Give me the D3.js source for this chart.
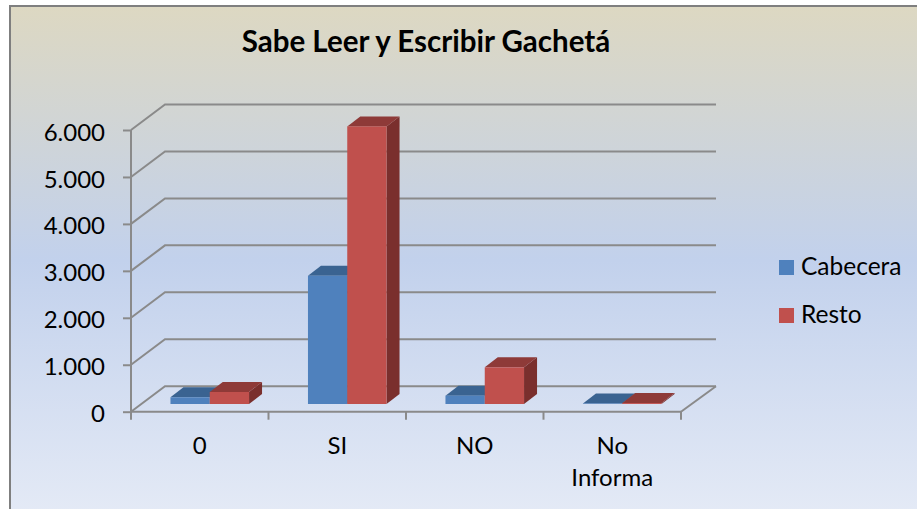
<!DOCTYPE html>
<html>
<head>
<meta charset="utf-8">
<script src="https://cdn.jsdelivr.net/npm/d3@7"></script>
<style>
html, body { margin: 0; padding: 0; background: #fff; overflow: hidden; }
svg { display: block; font-family: Lato, "Open Sans", sans-serif; }
</style>
</head>
<body>
<script>
// values
var categories = ["0", "SI", "NO", "No Informa"];
var seriesNames = ["Cabecera", "Resto"];
var cabecera = [143, 2730, 177, 10];
var resto = [256, 5913, 782, 20];
var yTicks = [0, 1000, 2000, 3000, 4000, 5000, 6000];
var titleText = "Sabe Leer y Escribir Gachetá";

var width = 917, height = 509;
var labelFont = "Lato, 'Open Sans', sans-serif";

// front plane of the fake 3d box
var plot = {left: 131, right: 681, top: 130, bottom: 411.7};
var depth = {dx: 34, dy: 25.5};       // wall depth
var barDepth = {dx: 13, dy: 10};      // depth of each bar
var barShift = {dx: 10, dy: 7.7};     // bars stand a bit inside the floor

var faces = {
    Cabecera: {front: "#4f81bd", top: "#3a6391", side: "#345a86"},
    Resto: {front: "#c0504d", top: "#8e3a38", side: "#7a2f2d"}
};
var lineColor = "#8a8a8a";

var svg = d3.select("body").append("svg")
    .attr("width", width)
    .attr("height", height);

// background gradient
var grad = svg.append("defs").append("linearGradient")
    .attr("id", "bg")
    .attr("x1", 0).attr("y1", 0).attr("x2", 0).attr("y2", 1);
grad.append("stop").attr("offset", "0%").attr("stop-color", "#ddd8c2");
grad.append("stop").attr("offset", "50%").attr("stop-color", "#c2d1ec");
grad.append("stop").attr("offset", "100%").attr("stop-color", "#e4eaf6");

svg.append("rect")
    .attr("x", 10).attr("y", 6)
    .attr("width", width).attr("height", height)
    .attr("fill", "url(#bg)")
    .attr("stroke", "#7f7f7f")
    .attr("stroke-width", 2);

var x = d3.scaleBand()
    .domain(categories)
    .range([plot.left, plot.right]);

// two bars take up a bit over half of each category
var xInner = d3.scaleBand()
    .domain(seriesNames)
    .range([0, x.bandwidth()])
    .paddingOuter(0.75)
    .paddingInner(0);

var y = d3.scaleLinear()
    .domain([0, 6000])
    .range([plot.bottom, plot.top]);

var locale = d3.formatLocale({decimal: ",", thousands: ".", grouping: [3], currency: ["", ""]});

//gridlines on the back and left walls
var grid = svg.append("g")
    .attr("fill", "none")
    .attr("stroke", lineColor)
    .attr("stroke-width", 2);

grid.selectAll(".wall")
    .data(yTicks)
    .enter()
    .append("path")
    .attr("class", "wall")
    .attr("d", function(d){
        var p = d3.path();
        p.moveTo(plot.left, y(d));
        p.lineTo(plot.left + depth.dx, y(d) - depth.dy);
        p.lineTo(plot.right + depth.dx + 1, y(d) - depth.dy);
        return p.toString();
    });

// floor right edge
var floorEdge = d3.path();
floorEdge.moveTo(plot.right, plot.bottom);
floorEdge.lineTo(plot.right + depth.dx + 1, plot.bottom - depth.dy);
grid.append("path").attr("d", floorEdge.toString());

//axes
var yAxis = svg.append("g")
    .attr("transform", "translate(" + plot.left + ",0)")
    .call(d3.axisLeft(y).tickValues(yTicks).tickSize(8).tickPadding(18).tickFormat(locale.format(",d")));

var xAxis = svg.append("g")
    .attr("transform", "translate(0," + plot.bottom + ")")
    .call(d3.axisBottom(x).tickSize(0).tickPadding(25));

// category ticks sit between the bands
xAxis.selectAll(".boundary")
    .data(categories.concat(["end"]))
    .enter()
    .append("line")
    .attr("class", "boundary")
    .attr("x1", function(d, i){ return plot.left + i * x.step(); })
    .attr("x2", function(d, i){ return plot.left + i * x.step(); })
    .attr("y1", 0)
    .attr("y2", 8);

[yAxis, xAxis].forEach(function(a){
    a.attr("font-family", labelFont);
    a.selectAll("path.domain, line")
        .attr("stroke", lineColor)
        .attr("stroke-width", 2);
    a.selectAll("path.domain").attr("d", null);
    a.selectAll("text")
        .attr("fill", "#000")
        .style("font-size", "24px");
});
yAxis.selectAll("text").attr("dy", "0.42em");
yAxis.append("line").attr("x1", 0).attr("x2", 0)
    .attr("y1", y(6000)).attr("y2", y(0))
    .attr("stroke", lineColor).attr("stroke-width", 2);
xAxis.append("line").attr("x1", plot.left).attr("x2", plot.right)
    .attr("y1", 0).attr("y2", 0)
    .attr("stroke", lineColor).attr("stroke-width", 2);

// wrap "No Informa" in two lines
xAxis.selectAll(".tick text").each(function(d){
    var parts = d.split(" ");
    if (parts.length < 2) return;
    var t = d3.select(this).text(null);
    parts.forEach(function(w, i){
        t.append("tspan")
            .attr("x", 0)
            .attr("dy", i ? "1.36em" : "0.71em")
            .text(w);
    });
    t.attr("dy", null);
});

//bars, each one is three faces
function poly(points){
    return "M" + points.map(function(p){ return p.join(","); }).join("L") + "Z";
}

var rows = [];
categories.forEach(function(c, i){
    rows.push({cat: c, name: "Cabecera", value: cabecera[i]});
    rows.push({cat: c, name: "Resto", value: resto[i]});
});

var bars = svg.selectAll(".bar")
    .data(rows)
    .enter()
    .append("g")
    .attr("class", "bar");

function box(d){
    var x0 = x(d.cat) + xInner(d.name) + barShift.dx,
        x1 = x0 + xInner.bandwidth(),
        yBase = plot.bottom - barShift.dy,
        yTop = yBase - (plot.bottom - y(d.value));
    return {x0: x0, x1: x1, yBase: yBase, yTop: yTop};
}

bars.append("path")
    .attr("fill", function(d){ return faces[d.name].side; })
    .attr("d", function(d){
        var b = box(d);
        return poly([[b.x1, b.yBase], [b.x1 + barDepth.dx, b.yBase - barDepth.dy],
            [b.x1 + barDepth.dx, b.yTop - barDepth.dy], [b.x1, b.yTop]]);
    });

bars.append("path")
    .attr("fill", function(d){ return faces[d.name].top; })
    .attr("d", function(d){
        var b = box(d);
        return poly([[b.x0, b.yTop], [b.x1, b.yTop],
            [b.x1 + barDepth.dx, b.yTop - barDepth.dy], [b.x0 + barDepth.dx, b.yTop - barDepth.dy]]);
    });

bars.append("rect")
    .attr("fill", function(d){ return faces[d.name].front; })
    .attr("x", function(d){ return box(d).x0; })
    .attr("y", function(d){ return box(d).yTop; })
    .attr("width", xInner.bandwidth())
    .attr("height", function(d){ var b = box(d); return b.yBase - b.yTop; });

//title
svg.append("text")
    .attr("x", 426)
    .attr("y", 52)
    .attr("text-anchor", "middle")
    .attr("font-weight", "bold")
    .attr("font-size", "29.5px")
    .attr("fill", "#000")
    .text(titleText);

//legend
var legendY = d3.scalePoint()
    .domain(seriesNames)
    .range([267.5, 315.5]);

var legend = svg.selectAll(".legend")
    .data(seriesNames)
    .enter()
    .append("g")
    .attr("class", "legend")
    .attr("transform", function(d){ return "translate(779," + legendY(d) + ")"; });

legend.append("rect")
    .attr("x", 0).attr("y", -7.5)
    .attr("width", 15).attr("height", 15)
    .attr("fill", function(d){ return faces[d].front; });

legend.append("text")
    .attr("x", 22)
    .attr("y", 7.5)
    .attr("font-size", "24.5px")
    .attr("fill", "#000")
    .text(function(d){ return d; });
</script>
</body>
</html>
